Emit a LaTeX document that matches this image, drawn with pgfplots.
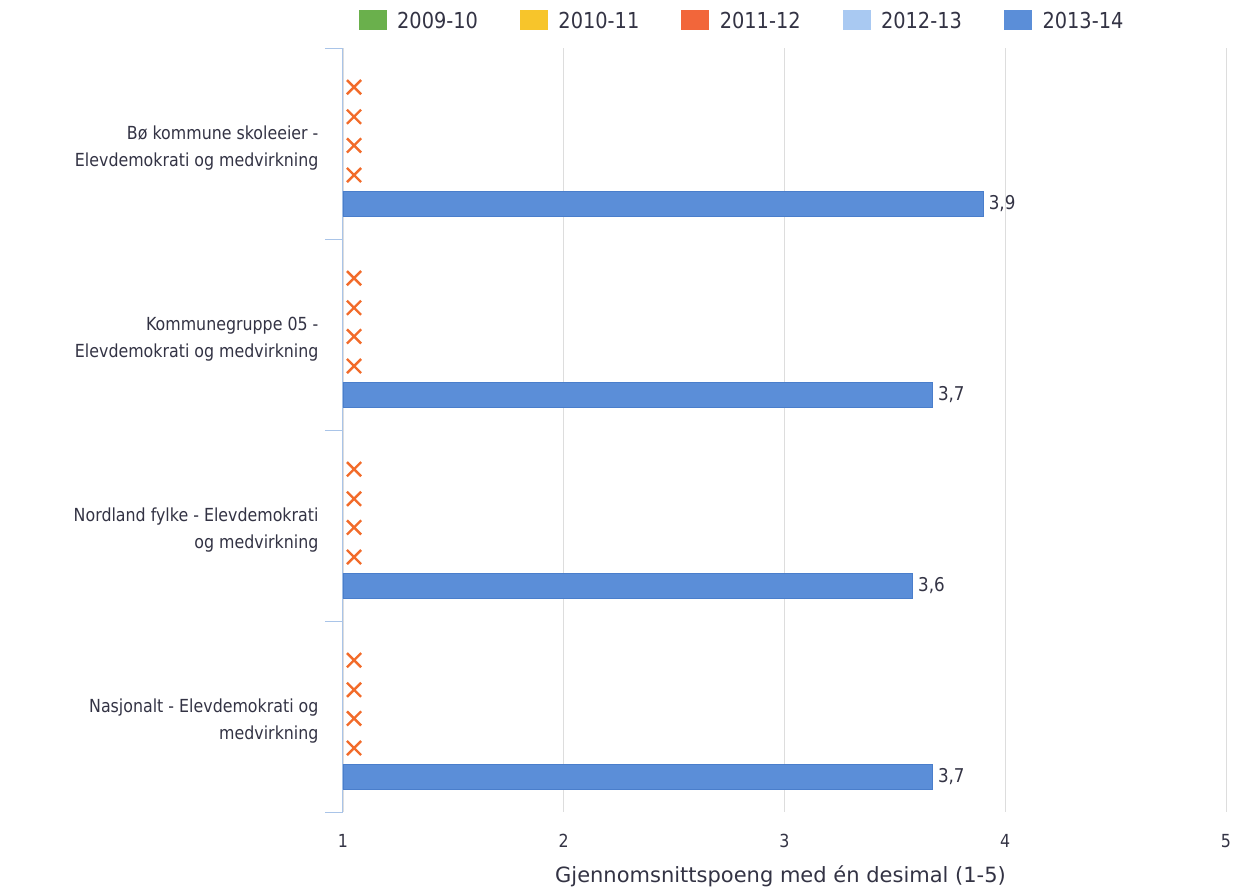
\documentclass[border=0pt]{standalone}
\usepackage{pgfplots}
\pgfplotsset{compat=1.18}
\usepackage{fontspec}
\setmainfont{DejaVu Sans}[FakeStretch=0.88]
\newfontfamily\widefont{DejaVu Sans}
\definecolor{cGreen}{HTML}{6AB04C}
\definecolor{cYellow}{HTML}{F7C52B}
\definecolor{cRed}{HTML}{F2663A}
\definecolor{cLight}{HTML}{A9C9F2}
\definecolor{cBlue}{HTML}{5B8ED8}
\definecolor{cBlueDark}{HTML}{4A7ECB}
\definecolor{cMark}{HTML}{F26B2A}
\definecolor{cAxis}{HTML}{A9C4E8}
\definecolor{cGrid}{HTML}{DDDDDD}
\definecolor{cText}{HTML}{333344}
\begin{document}
\begin{tikzpicture}
\begin{axis}[
  scale only axis,
  width=883pt, height=764pt,
  xmin=1, xmax=5,
  ymin=0, ymax=4, y dir=reverse,
  xtick={1,2,3,4,5},
  xmajorgrids, major grid style={cGrid, line width=0.8pt},
  axis lines*=left,
  x axis line style={draw=none},
  y axis line style={cAxis, line width=1pt, -},
  ytick={0.51,1.51,2.51,3.51},
  yticklabels={{Bø kommune skoleeier -\\Elevdemokrati og medvirkning},
               {Kommunegruppe 05 -\\Elevdemokrati og medvirkning},
               {Nordland fylke - Elevdemokrati\\og medvirkning},
               {Nasjonalt - Elevdemokrati og\\medvirkning}},
  major tick length=0pt,
  minor ytick={0,1,2,3,4},
  minor tick length=18pt,
  tick align=outside,
  minor tick style={cAxis, line width=1pt},
  yticklabel style={align=right, font=\fontsize{18}{27}\selectfont, text=cText, xshift=-21pt, yshift=-3pt},
  xticklabel style={font=\fontsize{18}{22}\selectfont, text=cText, yshift=-19pt},
  /pgf/number format/assume math mode=true,
  xlabel={Gjennomsnittspoeng med én desimal (1-5)},
  xlabel style={font=\widefont\fontsize{21}{24}\selectfont, text=cText, yshift=-11pt, xshift=-4pt},
  clip=false,
  legend style={draw=none, fill=none, at={(0.452,1)}, anchor=south, yshift=14pt,
    legend columns=-1, font=\fontsize{22}{24}\selectfont, text=cText,
    /tikz/every odd column/.append style={column sep=9pt},
    /tikz/every even column/.append style={column sep=40pt}},
  legend cell align=left,
]
\addplot[only marks, mark=x, mark size=10pt, color=cMark, mark options={line width=2.4pt},
  legend image code/.code={\fill[cGreen] (0pt,-8pt) rectangle (27pt,11pt);}]
  coordinates {(1.05,0.205) (1.05,1.205) (1.05,2.205) (1.05,3.205)};
\addlegendentry{2009-10}
\addplot[only marks, mark=x, mark size=10pt, color=cMark, mark options={line width=2.4pt},
  legend image code/.code={\fill[cYellow] (0pt,-8pt) rectangle (27pt,11pt);}]
  coordinates {(1.05,0.36) (1.05,1.36) (1.05,2.36) (1.05,3.36)};
\addlegendentry{2010-11}
\addplot[only marks, mark=x, mark size=10pt, color=cMark, mark options={line width=2.4pt},
  legend image code/.code={\fill[cRed] (0pt,-8pt) rectangle (27pt,11pt);}]
  coordinates {(1.05,0.51) (1.05,1.51) (1.05,2.51) (1.05,3.51)};
\addlegendentry{2011-12}
\addplot[only marks, mark=x, mark size=10pt, color=cMark, mark options={line width=2.4pt},
  legend image code/.code={\fill[cLight] (0pt,-8pt) rectangle (27pt,11pt);}]
  coordinates {(1.05,0.665) (1.05,1.665) (1.05,2.665) (1.05,3.665)};
\addlegendentry{2012-13}
\addplot[xbar, bar shift=0pt, bar width=0.131, fill=cBlue, draw=cBlueDark, line width=0.6pt,
  legend image code/.code={\fill[cBlue] (0pt,-8pt) rectangle (27pt,11pt);},
  nodes near coords, point meta=x,
  every node near coord/.append style={anchor=west, xshift=2pt, font=\fontsize{19}{21}\selectfont, text=cText,
    /pgf/number format/.cd, fixed, fixed zerofill, precision=1, use comma}]
  coordinates {(3.9,0.815) (3.67,1.815) (3.58,2.815) (3.67,3.815)};
\addlegendentry{2013-14}
\end{axis}
\pgfresetboundingbox
\path (-343pt,-79pt) rectangle (901pt,812pt);
\end{tikzpicture}
\end{document}
